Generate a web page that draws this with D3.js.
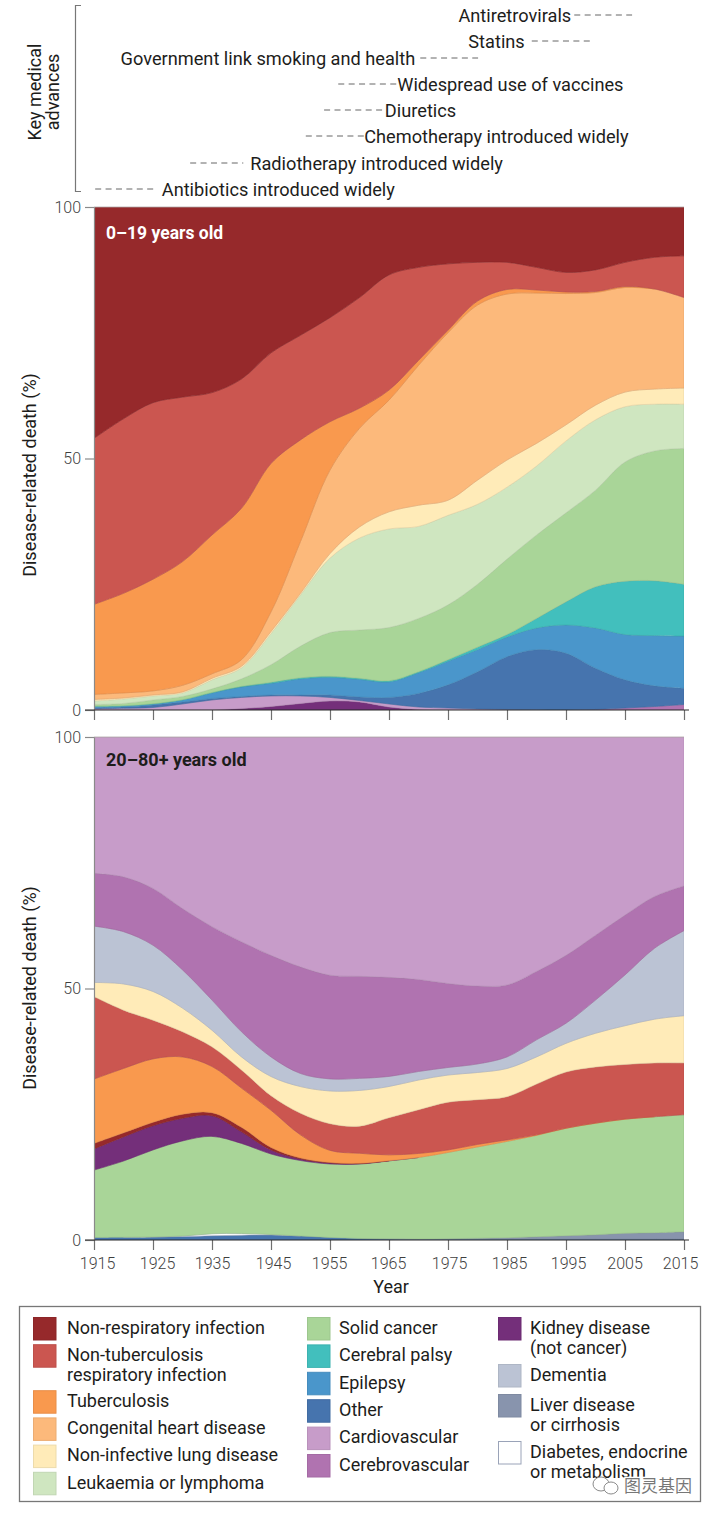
<!DOCTYPE html>
<html>
<head>
<meta charset="utf-8">
<script src="https://cdn.jsdelivr.net/npm/d3@7"></script>
<style>
html,body{margin:0;padding:0;background:#fff}
svg{display:block}
text{font-family:Roboto,"Noto Sans",sans-serif}
</style>
</head>
<body>
<svg id="chart" width="714" height="1514"></svg>
<script>
// ---------- categories and data ----------
const years = d3.range(21).map(i => 1915 + i * 5);
const tickYears = d3.range(11).map(i => 1915 + i * 10);
const yTicks = [0, 50, 100];

const colNonResp = "#96292b", colNonTB = "#cb5650", colTB = "#f9994e", colCongenital = "#fcb97b",
      colLung = "#ffebb8", colLeuk = "#cfe6c0", colSolid = "#a9d598", colPalsy = "#42bfbd",
      colEpilepsy = "#4a96cb", colOther = "#4674ae", colCardio = "#c79cc9", colCerebro = "#b073b0",
      colKidney = "#742f7a", colDementia = "#bbc3d4", colLiver = "#8894ad", colDiabetes = "#ffffff";

// 0-19 years old (share of disease-related death, %)
const youngCerebro   = [0,0,0,0,0,0,0,0,0,0,0,0,0,0,0,0,0,.1,.4,.7,1.1];
const youngKidney    = [0,0,0,0,.02,.3,.7,1.3,1.8,1.6,.6,.1,0,0,0,0,0,0,0,0,0];
const youngCardio    = [.25,.35,.5,1.2,1.98,2.2,2.1,1.5,.7,.3,.6,.5,.4,.2,.1,.05,0,0,0,0,0];
const youngOther     = [.2,.25,.5,.4,.3,.2,.2,.2,.5,.7,1.3,2.7,4.6,7.4,10.5,11.95,11.3,8.2,5.6,4.1,3.2];
const youngEpilepsy  = [.25,.2,.2,.4,1.1,1.9,2.3,3.2,3.5,3.5,3.1,4.1,4.7,4.4,3.9,4.3,5.6,8,9,10,10.4];
const youngPalsy     = [.05,.05,.05,.05,.1,.1,.2,.2,.2,.2,.2,.2,.3,.5,.5,1.9,4.6,8.2,10.6,10.9,10.3];
const youngSolid     = [.35,.45,.75,.65,.7,1.5,3.5,6.3,8.7,9.6,10.6,10.6,10.9,12.5,15,16.6,17.7,19.2,23.7,25.8,27];
const youngLeuk      = [.7,.9,.8,.7,1.8,2.2,6.2,10.2,14.8,18.3,19.6,18.3,17.8,15.9,14.3,13.7,14.3,14,11,9.3,8.8];
const youngLung      = [.3,.2,.2,.2,.3,.3,.4,.3,.9,2.2,3.4,4.2,3,4.8,5.4,4.5,3.2,2.9,2.9,3,3.2];
const youngCongenital= [1,1,.8,1.3,.9,1.3,3.9,10.3,16.6,19.6,22.2,27.8,33.3,34.8,33,29.9,26.1,22.4,20.8,19.9,18];
const youngTB        = [17.9,19.8,22.2,24.6,27.6,30.1,29.5,20.2,9.6,4,2,1,.5,.8,.9,.6,.3,.2,.2,0,0];
const youngNonTB     = [33,34.7,35.1,32.7,28.3,25.7,22,20.8,20.7,22,22.9,18.5,13.2,7.7,5.4,4.5,3.9,4.3,4.8,6.3,8.3];
const youngNonResp   = [46,42.1,38.9,37.8,36.9,34.2,29,25.5,22,18,13.5,12,11.3,11,11,12,13,12.5,11,10,9.7];

// 20-80+ years old (share of disease-related death, %)
const adultOther     = [.5,.55,.6,.7,.85,.95,1,.8,.5,.3,.2,.15,.15,.15,.15,.15,.15,.15,.15,.15,.15];
const adultLiver     = [0,0,0,0,0,0,0,0,0,0,.03,.05,.1,.2,.3,.5,.7,.9,1.2,1.3,1.5];
const adultDiabetes  = [0,0,.01,.1,.4,.35,.1,0,0,0,0,0,0,0,0,0,0,0,0,0,0];
const adultSolid     = [13.4,15.15,17.3,18.9,19.35,17.9,16,15,14.6,14.8,15.5,16.2,17.15,18.15,19.15,20.15,21.35,22.15,22.65,23.05,23.25];
const adultKidney    = [4.2,4.8,4.8,4.5,4.1,2.3,.8,.3,.2,.1,.05,0,0,0,0,0,0,0,0,0,0];
const adultNonResp   = [1.1,.8,.7,.8,.6,.9,.5,.2,.1,.05,0,0,0,0,0,0,0,0,0,0,0];
const adultTB        = [12.8,12.8,12.6,11.4,9.2,7.8,7.4,4.6,2.4,2,1.15,.8,.5,.5,.3,.1,.05,.05,.05,0,0];
const adultNonTB     = [16.4,11.6,7.7,5,3.9,3.6,2.9,4.3,5.3,5.4,7.4,8.7,9.5,8.9,8.6,10.1,11.15,11.15,10.85,10.7,10.3];
const adultLung      = [2.8,5.2,5.7,4.7,3.3,2.6,3.8,5.3,6.5,7.1,6.2,5.9,5.4,5.4,5.6,5.4,5.7,6.7,7.7,8.7,9.4];
const adultDementia  = [11.2,10.4,9.2,7.6,6,5,3.9,2.6,2.4,2.4,2,1.7,1.5,1.7,2.3,3.4,4,6.6,10.1,14.1,16.9];
const adultCerebro   = [10.5,10.9,11.3,12.2,14.6,17.9,20.2,21.2,20.6,20.3,19.7,18.3,16.7,15.5,14.3,13.6,13.5,12.9,11.9,10.3,8.9];
const adultCardio    = [27.1,27.8,30.1,34.1,37.7,40.7,43.4,45.7,47.3,47.6,47.8,48.2,49,49.5,49.3,46.6,43.4,39.4,35.4,31.7,29.6];

const youngLayers = [
  [youngCerebro,colCerebro],[youngKidney,colKidney],[youngCardio,colCardio],[youngOther,colOther],
  [youngEpilepsy,colEpilepsy],[youngPalsy,colPalsy],[youngSolid,colSolid],[youngLeuk,colLeuk],
  [youngLung,colLung],[youngCongenital,colCongenital],[youngTB,colTB],[youngNonTB,colNonTB],[youngNonResp,colNonResp]];
const adultLayers = [
  [adultOther,colOther],[adultLiver,colLiver],[adultDiabetes,colDiabetes],[adultSolid,colSolid],
  [adultKidney,colKidney],[adultNonResp,colNonResp],[adultTB,colTB],[adultNonTB,colNonTB],
  [adultLung,colLung],[adultDementia,colDementia],[adultCerebro,colCerebro],[adultCardio,colCardio]];

// key medical advances: label, dash start year, dash end year
const advanceLabels = ["Antiretrovirals","Statins","Government link smoking and health","Widespread use of vaccines",
  "Diuretics","Chemotherapy introduced widely","Radiotherapy introduced widely","Antibiotics introduced widely"];
const advanceStart = [1996.4,1989.2,1970.3,1956.4,1954,1950.9,1931.3,1915.2];
const advanceEnd   = [2006.2,1999.1,1980.1,1966.4,1964.3,1960.8,1940.3,1925.3];

const legendCol1 = [["Non-respiratory infection"],["Non-tuberculosis","respiratory infection"],["Tuberculosis"],["Congenital heart disease"],["Non-infective lung disease"],["Leukaemia or lymphoma"]];
const legendCol2 = [["Solid cancer"],["Cerebral palsy"],["Epilepsy"],["Other"],["Cardiovascular"],["Cerebrovascular"]];
const legendCol3 = [["Kidney disease","(not cancer)"],["Dementia"],["Liver disease","or cirrhosis"],["Diabetes, endocrine","or metabolism"]];
const legendColors1 = [colNonResp,colNonTB,colTB,colCongenital,colLung,colLeuk];
const legendColors2 = [colSolid,colPalsy,colEpilepsy,colOther,colCardio,colCerebro];
const legendColors3 = [colKidney,colDementia,colLiver,colDiabetes];

// ---------- layout ----------
const svg = d3.select("#chart");
const x = d3.scaleLinear().domain([1915, 2015]).range([94, 684]);
const inkText = "#1d1d1b", tickText = "#3f3f3f", axisGrey = "#8a8a8a";

function panel(id, layers, top, bottom, showLabels, yLabelMid) {
  const y = d3.scaleLinear().domain([0, 100]).range([bottom, top]);
  const table = years.map((yr, i) => {
    const row = { year: yr };
    layers.forEach((l, k) => row[k] = l[0][i]);
    return row;
  });
  const stack = d3.stack().keys(layers.map((l, k) => k)).offset(d3.stackOffsetExpand);
  const series = stack(table);
  const thick = s => i => i >= 0 && i < s.length && (s[i][1] - s[i][0]) > 1e-6;
  svg.append("clipPath").attr("id", id).append("rect")
    .attr("x", x.range()[0]).attr("y", top).attr("width", x.range()[1] - x.range()[0]).attr("height", bottom - top);
  const g = svg.append("g").attr("clip-path", `url(#${id})`);
  series.forEach((s, k) => {
    const has = thick(s);
    const area = d3.area()
      .defined((d, i) => has(i) || has(i - 1) || has(i + 1))
      .x(d => x(d.data.year))
      .y0(d => y(d[0] * 100))
      .y1(d => y(d[1] * 100))
      .curve(d3.curveCatmullRom.alpha(0.5));
    const c = layers[k][1];
    g.append("path").attr("d", area(s)).attr("fill", c)
      .attr("stroke", c === colDiabetes ? "#9aa3b8" : d3.color(c).darker(0.35))
      .attr("stroke-width", 0.7).attr("stroke-opacity", 0.8);
  });

  const yAxis = svg.append("g").attr("transform", "translate(94,0)")
    .call(d3.axisLeft(y).tickValues(yTicks).tickSize(9).tickPadding(4));
  yAxis.select(".domain").attr("stroke", axisGrey).attr("stroke-width", 1.2);
  yAxis.selectAll(".tick line").attr("stroke", axisGrey).attr("stroke-width", 1.2);
  yAxis.selectAll("text").attr("font-size", 16).attr("font-weight", 300).attr("fill", tickText).style("font-family", "Roboto");

  svg.append("line").attr("x1", 94).attr("x2", 684).attr("y1", top).attr("y2", top)
    .attr("stroke", "#b0a8a8").attr("stroke-width", 0.8);

  const xAxis = svg.append("g").attr("transform", `translate(0,${bottom})`)
    .call(d3.axisBottom(x).tickValues(tickYears).tickFormat(showLabels ? d3.format("d") : "").tickSize(10).tickPadding(8));
  xAxis.select(".domain").remove();
  svg.append("line").attr("x1", 85).attr("x2", 689).attr("y1", bottom).attr("y2", bottom)
    .attr("stroke", "#2b2b2b").attr("stroke-width", 1);
  xAxis.selectAll(".tick line").attr("stroke", "#6f6f6f").attr("stroke-width", 1.2);
  xAxis.selectAll("text").attr("font-size", 16).attr("font-weight", 300).attr("fill", tickText).style("font-family", "Roboto");
  const nudge = [3, 4, 0, 2, -1, -1, 1, 2, 2, -0.5, -4];
  if (showLabels) xAxis.selectAll("text").attr("dx", (d, i) => nudge[i]);

  svg.append("text")
    .attr("transform", `translate(36,${yLabelMid}) rotate(-90)`)
    .attr("text-anchor", "middle").attr("font-size", 18).attr("fill", inkText)
    .text("Disease-related death (%)");
}

panel("clipYoung", youngLayers, 207, 710, false, 475);
panel("clipAdult", adultLayers, 737, 1240, true, 988);

svg.append("text").attr("x", 106).attr("y", 239).attr("font-size", 17.5).attr("font-weight", 700)
  .attr("fill", "#fff").text("0–19 years old");
svg.append("text").attr("x", 106).attr("y", 766).attr("font-size", 18).attr("font-weight", 700)
  .attr("fill", inkText).text("20–80+ years old");
svg.append("text").attr("x", 391).attr("y", 1293).attr("text-anchor", "middle")
  .attr("font-size", 18).attr("fill", inkText).text("Year");

// key medical advances
svg.append("path").attr("d", "M81,5.5H75.5V191.5H81").attr("fill", "none")
  .attr("stroke", "#777").attr("stroke-width", 1.2);
svg.append("text").attr("transform", "translate(41,92) rotate(-90)").attr("text-anchor", "middle")
  .attr("font-size", 18).attr("fill", inkText).text("Key medical");
svg.append("text").attr("transform", "translate(59,92) rotate(-90)").attr("text-anchor", "middle")
  .attr("font-size", 18).attr("fill", inkText).text("advances");

const advanceRows = [15, 41, 58, 84, 110, 136, 163, 189];
// side of the dashes the label sits on, and gap to it
const labelRight = [false, false, false, true, true, true, true, true];
const labelGap = [3, 7, 5, 0, 0, 0, 7, 7];
advanceLabels.forEach((lab, i) => {
  const x0 = x(advanceStart[i]), x1 = x(advanceEnd[i]), yy = advanceRows[i];
  svg.append("line").attr("x1", x0).attr("x2", x1).attr("y1", yy).attr("y2", yy)
    .attr("stroke", "#666").attr("stroke-width", 1).attr("stroke-dasharray", "6,4.4");
  svg.append("text").attr("x", labelRight[i] ? x1 + labelGap[i] : x0 - labelGap[i])
    .attr("y", yy + 6.6).attr("text-anchor", labelRight[i] ? "start" : "end")
    .attr("font-size", 18.2).attr("fill", inkText).text(lab);
});

// legend
svg.append("rect").attr("x", 19.5).attr("y", 1306.5).attr("width", 681).attr("height", 195)
  .attr("fill", "#fff").attr("stroke", "#777").attr("stroke-width", 1.3);

function legendColumn(items, colors, xSwatch, textGap, singleStep, doubleStep) {
  let yy = 1317;
  items.forEach((lines, i) => {
    const c = colors[i];
    svg.append("rect").attr("x", xSwatch + 0.5).attr("y", yy + 0.5).attr("width", 22.5).attr("height", 22.5)
      .attr("fill", c).attr("stroke", c === colDiabetes ? "#9aa3b8" : d3.color(c).darker(0.2)).attr("stroke-width", 1);
    lines.forEach((t, j) => {
      svg.append("text").attr("x", xSwatch + textGap).attr("y", yy + 16.8 + j * 20)
        .attr("font-size", 18).attr("fill", inkText).text(t);
    });
    yy += lines.length > 1 ? doubleStep : singleStep;
  });
}
legendColumn(legendCol1, legendColors1, 33, 34, 27.2, 46);
legendColumn(legendCol2, legendColors2, 307, 32, 27.4, 46);
legendColumn(legendCol3, legendColors3, 498, 32, 30, 47);

// watermark
const mark = svg.append("g");
mark.append("ellipse").attr("cx", 601).attr("cy", 1484).attr("rx", 8).attr("ry", 7)
  .attr("fill", "#fff").attr("stroke", "#8a8a8a").attr("stroke-width", 1);
mark.append("ellipse").attr("cx", 611).attr("cy", 1488).attr("rx", 7).attr("ry", 6)
  .attr("fill", "#fff").attr("stroke", "#8a8a8a").attr("stroke-width", 1);
mark.append("text").attr("x", 624).attr("y", 1492).attr("font-size", 17)
  .style("font-family", '"Noto Sans CJK SC"').attr("fill", "#777")
  .attr("stroke", "#fff").attr("stroke-width", 2.5).attr("paint-order", "stroke").text("图灵基因");
</script>
</body>
</html>
